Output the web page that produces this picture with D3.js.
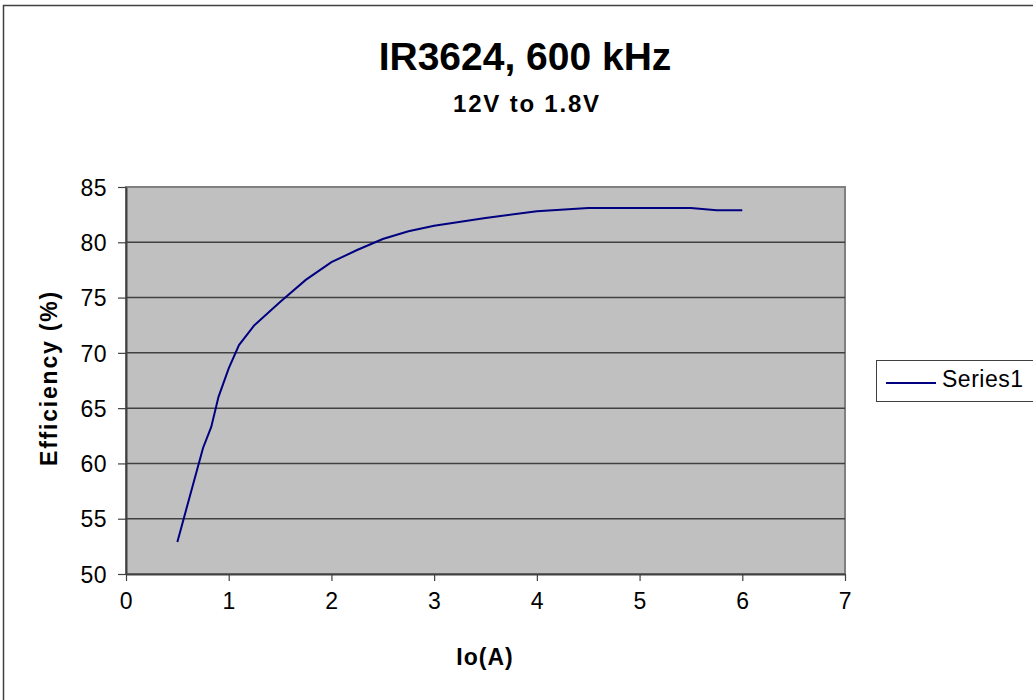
<!DOCTYPE html>
<html>
<head>
<meta charset="utf-8">
<script src="https://cdn.jsdelivr.net/npm/d3@7"></script>
<style>
  body { margin: 0; background: #fff; }
  svg { font-family: "Liberation Sans", Arial, sans-serif; }
</style>
</head>
<body>
<svg id="chart" width="1033" height="700"></svg>
<script>
// data
const current = [0.5, 0.75, 0.83, 0.9, 1.0, 1.1, 1.25, 1.5, 1.75, 2.0, 2.25, 2.5, 2.75, 3.0, 3.5, 4.0, 4.5, 5.0, 5.5, 5.75, 6.0];
const efficiency = [52.9, 61.4, 63.3, 66.0, 68.6, 70.7, 72.5, 74.6, 76.6, 78.2, 79.3, 80.3, 81.0, 81.5, 82.2, 82.8, 83.1, 83.1, 83.1, 82.9, 82.9];
const xTicks = [0, 1, 2, 3, 4, 5, 6, 7];
const yTicks = [50, 55, 60, 65, 70, 75, 80, 85];
const seriesName = "Series1";

const svg = d3.select("#chart");
const plotLeft = 126, plotRight = 845, plotTop = 187, plotBottom = 574;

// outer chart border
svg.append("rect")
  .attr("x", 3.5).attr("y", 5.5)
  .attr("width", 1100).attr("height", 800)
  .attr("fill", "#fff")
  .attr("stroke", "#404040")
  .attr("stroke-width", 1.5);

const xScale = d3.scaleLinear().domain([0, 7]).range([plotLeft, plotRight]);
const yScale = d3.scaleLinear().domain([50, 85]).range([plotBottom, plotTop]);

// plot area
svg.append("rect")
  .attr("x", plotLeft).attr("y", plotTop)
  .attr("width", plotRight - plotLeft).attr("height", plotBottom - plotTop)
  .attr("fill", "#c0c0c0")
  .attr("stroke", "#808080")
  .attr("stroke-width", 2);

// gridlines
svg.append("g")
  .selectAll("line")
  .data(yTicks.slice(1, -1))
  .join("line")
  .attr("x1", plotLeft).attr("x2", plotRight)
  .attr("y1", d => yScale(d)).attr("y2", d => yScale(d))
  .attr("stroke", "#404040")
  .attr("stroke-width", 1.5);

// axes
const yAxis = svg.append("g")
  .attr("transform", `translate(${plotLeft},0)`)
  .call(d3.axisLeft(yScale).tickValues(yTicks).tickFormat(d3.format("d"))
    .tickSize(8).tickPadding(11).tickSizeOuter(0));
const xAxis = svg.append("g")
  .attr("transform", `translate(0,${plotBottom})`)
  .call(d3.axisBottom(xScale).tickValues(xTicks).tickFormat(d3.format("d"))
    .tickSize(7).tickPadding(12).tickSizeOuter(0));

[yAxis, xAxis].forEach(g => {
  g.attr("font-size", null).attr("font-family", null);
  g.select(".domain").attr("stroke", "#404040").attr("stroke-width", 2);
  g.selectAll(".tick line").attr("stroke", "#404040").attr("stroke-width", 1.2);
  g.selectAll(".tick text")
    .attr("fill", "#000")
    .style("font-size", "23px")
    .style("letter-spacing", "0.5px");
});
yAxis.selectAll(".tick text").attr("dy", "0.36em");

// series line
const line = d3.line()
  .x((d, i) => xScale(current[i]))
  .y(d => yScale(d));

svg.append("path")
  .datum(efficiency)
  .attr("d", line)
  .attr("fill", "none")
  .attr("stroke", "#000080")
  .attr("stroke-width", 2);

// titles
svg.append("text")
  .text("IR3624, 600 kHz")
  .attr("x", 525).attr("y", 70)
  .attr("text-anchor", "middle")
  .style("font-size", "39px")
  .style("font-weight", "bold");

svg.append("text")
  .text("12V to 1.8V")
  .attr("x", 527).attr("y", 112)
  .attr("text-anchor", "middle")
  .style("font-size", "24px")
  .style("letter-spacing", "1.8px")
  .style("font-weight", "bold");

svg.append("text")
  .text("Io(A)")
  .attr("x", 485).attr("y", 665)
  .attr("text-anchor", "middle")
  .style("font-size", "23px")
  .style("letter-spacing", "1px")
  .style("font-weight", "bold");

svg.append("text")
  .text("Efficiency (%)")
  .attr("transform", "translate(57,378) rotate(-90)")
  .attr("text-anchor", "middle")
  .style("font-size", "23px")
  .style("letter-spacing", "1.8px")
  .style("font-weight", "bold");

// legend
svg.append("rect")
  .attr("x", 876.5).attr("y", 360.5)
  .attr("width", 200).attr("height", 41)
  .attr("fill", "#fff")
  .attr("stroke", "#404040")
  .attr("stroke-width", 1);

svg.append("line")
  .attr("x1", 886).attr("x2", 936)
  .attr("y1", 383).attr("y2", 383)
  .attr("stroke", "#000080")
  .attr("stroke-width", 2);

svg.append("text")
  .text(seriesName)
  .attr("x", 942).attr("y", 387)
  .style("font-size", "23px")
  .style("letter-spacing", "0.5px");
</script>
</body>
</html>
